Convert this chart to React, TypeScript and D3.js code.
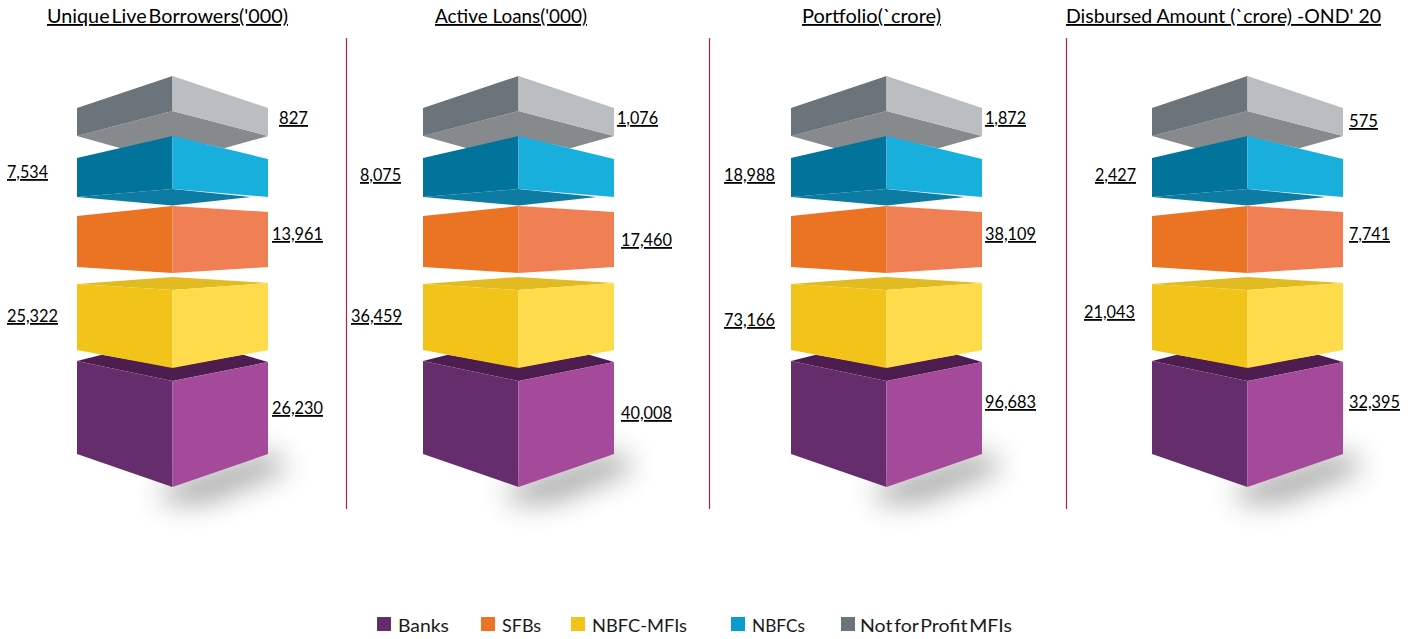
import React from "react";
import * as d3 from "d3";

const W = 1413, H = 639;

// ---- data ----
const segments = ["Banks", "SFBs", "NBFC-MFIs", "NBFCs", "Not for Profit MFIs"];
const columns = ["Unique Live Borrowers('000)", "Active Loans('000)", "Portfolio(`crore)", "Disbursed Amount (`crore) -OND' 20"];
const bankValues = ["26,230", "40,008", "96,683", "32,395"];
const sfbValues = ["13,961", "17,460", "38,109", "7,741"];
const nbfcMfiValues = ["25,322", "36,459", "73,166", "21,043"];
const nbfcValues = ["7,534", "8,075", "18,988", "2,427"];
const nfpValues = ["827", "1,076", "1,872", "575"];
const seriesValues = [bankValues, sfbValues, nbfcMfiValues, nbfcValues, nfpValues];

// ---- layout ----
// The block heights in the reference are identical in all four columns: they do not encode values.
const centerX = d3.scaleOrdinal<string, number>().domain(columns).range([172.5, 518.5, 886.5, 1247.5]);
const dividerX = [346.5, 709.5, 1066.5];
const titleExtent = [[47, 288], [435, 587], [802, 941], [1066, 1381]];
const titleWordSpacing = [-3, 0, 0, 0];
const halfW = d3.scaleLinear().domain([-1, 1]).range([-95.5, 95.5]);

type Pt = [number, number];
const lineGen = d3.line<Pt>().x(d => d[0]).y(d => d[1]).curve(d3.curveLinearClosed);

// face outlines: [u (−1..1 across the block), y]
const faces: { fill: string; pts: Pt[] }[] = [
  // banks
  { fill: "#4d1d50", pts: [[-1, 361], [-0.74, 354.7], [0, 367], [0.74, 354.7], [1, 362], [0, 381]] },
  { fill: "#652d6b", pts: [[-1, 361], [0, 381], [0, 487], [-1, 454]] },
  { fill: "#a54a9b", pts: [[0, 381], [1, 362], [1, 454], [0, 487]] },
  // nbfc-mfi
  { fill: "#e2bb22", pts: [[-1, 284], [0, 277], [1, 283], [0, 290]] },
  { fill: "#f2c419", pts: [[-1, 284], [0, 290], [0, 368], [-1, 350]] },
  { fill: "#fddb4a", pts: [[0, 290], [1, 283], [1, 350], [0, 368]] },
  // sfb
  { fill: "#ea7424", pts: [[-1, 216], [0, 206], [0, 273], [-1, 267]] },
  { fill: "#f07f53", pts: [[0, 206], [1, 212], [1, 267], [0, 273]] },
  // nfp (underside first, then sides)
  { fill: "#868a8d", pts: [[-1, 136], [0, 111], [1, 136], [0.54, 148.2], [0, 137], [-0.54, 148.2]] },
  { fill: "#6a747a", pts: [[-1, 108], [0, 76], [0, 111], [-1, 136]] },
  { fill: "#bbbec0", pts: [[0, 76], [1, 108], [1, 136], [0, 111]] },
  // nbfc
  { fill: "#0e7ba3", pts: [[-1, 197], [0, 189], [0.82, 197], [0, 205.5]] },
  { fill: "#02749b", pts: [[-1, 158], [0, 136], [0, 189], [-1, 197]] },
  { fill: "#18afdd", pts: [[0, 136], [1, 159], [1, 197], [0, 189]] },
];
const shadowPts: Pt[] = [[-0.1, 487], [1, 452], [1.22, 468], [0.35, 502], [-0.1, 502]];

// label placement per series per column: [x of left edge, y of baseline]
const labelPos: Pt[][] = [
  [[272, 414], [621, 419], [985, 408], [1349, 408]],
  [[272, 240], [621, 246], [985, 240], [1349, 240]],
  [[7, 322], [351, 322], [724, 326], [1084, 318]],
  [[7, 178], [360, 181], [724, 181], [1095, 181]],
  [[279, 124], [617, 124], [985, 124], [1349, 127]],
];
const labelWidth = d3.scaleOrdinal<number, number>().domain([3, 5, 6]).range([29, 41, 51]);

const legendColors = ["#652d6b", "#ea7424", "#f2c419", "#0a9bcf", "#6a747a"];
const legendSwatchX = [377, 481, 571, 731, 841];
const legendTextX = [398, 502, 592, 752, 860];
const legendTextW = [51, 39, 95, 53, 152];
const legendWordSpacing = [0, 0, 0, 0, -3];

const font = "Lato, 'Open Sans', sans-serif";
const underline: React.CSSProperties = {
  textDecorationLine: "underline",
  textDecorationThickness: "1.6px",
  textUnderlineOffset: "3px",
};

export default function App() {
  return (
    <svg width={W} height={H} viewBox={`0 0 ${W} ${H}`}
      style={{ position: "absolute", left: 0, top: 0, display: "block", background: "#fff" }}>
      <defs>
        <filter id="soft" x="-60%" y="-100%" width="220%" height="300%">
          <feGaussianBlur stdDeviation="14" />
        </filter>
      </defs>

      {columns.map((c, i) => (
        <text key={c} x={titleExtent[i][0]} y={23} fontFamily={font} fontSize={18.5} fill="#000"
          wordSpacing={titleWordSpacing[i]}
          textLength={titleExtent[i][1] - titleExtent[i][0]} lengthAdjust="spacingAndGlyphs"
          style={underline}>{c}</text>
      ))}

      {dividerX.map(x => (
        <line key={x} x1={x} x2={x} y1={38} y2={509} stroke="#a8234f" strokeWidth={1.2} />
      ))}

      {columns.map(c => {
        const cx = centerX(c);
        const project = (pts: Pt[]) => lineGen(pts.map(([u, y]) => [cx + halfW(u), y] as Pt)) as string;
        return (
          <g key={c}>
            <path d={project(shadowPts)} fill="#444" opacity={0.48} filter="url(#soft)" />
            {faces.map((f, i) => (
              <path key={i} d={project(f.pts)} fill={f.fill} />
            ))}
          </g>
        );
      })}

      {seriesValues.map((vals, s) => vals.map((v, i) => (
        <text key={`${s}-${i}`} x={labelPos[s][i][0]} y={labelPos[s][i][1]} fontFamily={font} fontSize={18}
          fill="#000" textLength={labelWidth(v.length)} lengthAdjust="spacingAndGlyphs"
          style={underline}>{v}</text>
      )))}

      {segments.map((s, i) => (
        <g key={s}>
          <rect x={legendSwatchX[i]} y={617} width={14} height={14} fill={legendColors[i]} />
          <text x={legendTextX[i]} y={632} fontFamily={font} fontSize={18} fill="#1a1a1a"
            wordSpacing={legendWordSpacing[i]}
            textLength={legendTextW[i]} lengthAdjust="spacingAndGlyphs">{s}</text>
        </g>
      ))}
    </svg>
  );
}
